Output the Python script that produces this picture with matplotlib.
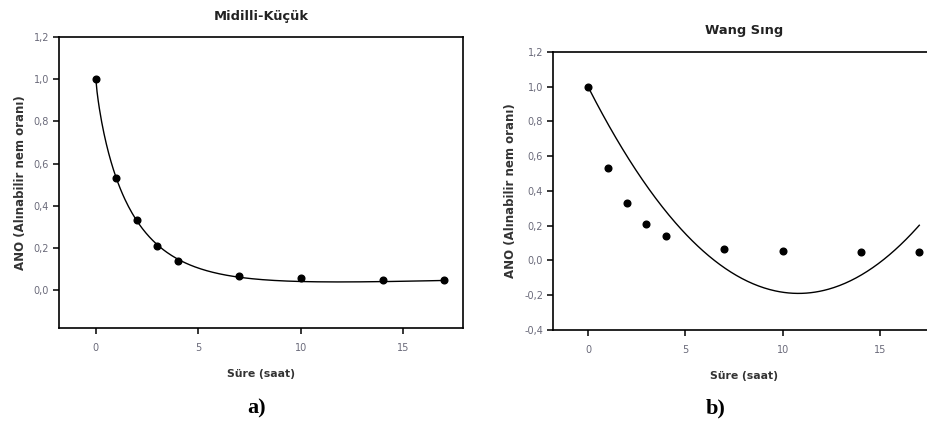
import numpy as np
import matplotlib.pyplot as plt

# drying data: time (h) and moisture ratio
sure = [0, 1, 2, 3, 4, 7, 10, 14, 17]
ano = [1.0, 0.53, 0.33, 0.21, 0.14, 0.065, 0.055, 0.05, 0.05]

# Midilli-Kucuk model parameters: MR = a*exp(-k*t^n) + b*t
mk_a, mk_k, mk_n, mk_b = 1.0, 0.64, 0.82, 0.0026
# Wang-Singh model parameters: MR = 1 + a*t + b*t^2
ws_a, ws_b = -0.2203, 0.0102

t = np.linspace(0, 17, 300)
mk_fit = mk_a * np.exp(-mk_k * t ** mk_n) + mk_b * t
ws_fit = 1 + ws_a * t + ws_b * t ** 2

plt.rcParams['font.family'] = ['DejaVu Sans']

fig = plt.figure(figsize=(9.27, 4.26), dpi=100)
ax1 = fig.add_axes([0.0636, 0.230, 0.4358, 0.683])
ax2 = fig.add_axes([0.5965, 0.2254, 0.412, 0.6526])

tick_col = '#6a6a7a'
lab_col = '#333333'


def style(ax, title, ylim, yticks):
    ax.set_xlim(-1.8, 17.9)
    ax.set_ylim(*ylim)
    ax.set_xticks([0, 5, 10, 15])
    ax.set_yticks(yticks)
    ax.set_yticklabels([('%.1f' % v).replace('.', ',') for v in yticks])
    ax.tick_params(direction='out', length=4, width=1.1, labelsize=7,
                   labelcolor=tick_col)
    ax.tick_params(axis='x', pad=7)
    ax.tick_params(axis='y', pad=3)
    for s in ax.spines.values():
        s.set_linewidth(1.2)
    ax.set_title(title, fontsize=9.4, fontweight='bold', color='#222222',
                 pad=12)
    ax.set_xlabel('Süre (saat)', fontsize=7.8, fontweight='bold',
                  color=lab_col, labelpad=11)
    ax.set_ylabel('ANO (Alınabilir nem oranı)', fontsize=8.5,
                  fontweight='bold', color=lab_col, labelpad=5)


ax1.plot(t, mk_fit, color='black', lw=1.0)
ax1.plot(sure, ano, 'o', color='black', ms=4.8)
style(ax1, 'Midilli-Küçük', (-0.18, 1.2), [0.0, 0.2, 0.4, 0.6, 0.8, 1.0, 1.2])

ax2.plot(t, ws_fit, color='black', lw=1.0)
ax2.plot(sure, ano, 'o', color='black', ms=4.8)
style(ax2, 'Wang Sıng', (-0.4, 1.2),
      [-0.4, -0.2, 0.0, 0.2, 0.4, 0.6, 0.8, 1.0, 1.2])
ax2.set_xlim(-1.8, 17.8)
ax2.set_title('Wang Sıng', fontsize=9.4, fontweight='bold', color='#222222',
              pad=13)

fig.text(257 / 927, 1 - 408 / 426, 'a)', family='Liberation Serif',
         fontweight='bold', fontsize=16, ha='center', va='center')
fig.text(716 / 927, 1 - 408 / 426, 'b)', family='Liberation Serif',
         fontweight='bold', fontsize=16, ha='center', va='center')

fig.savefig('out.png', dpi=100)
